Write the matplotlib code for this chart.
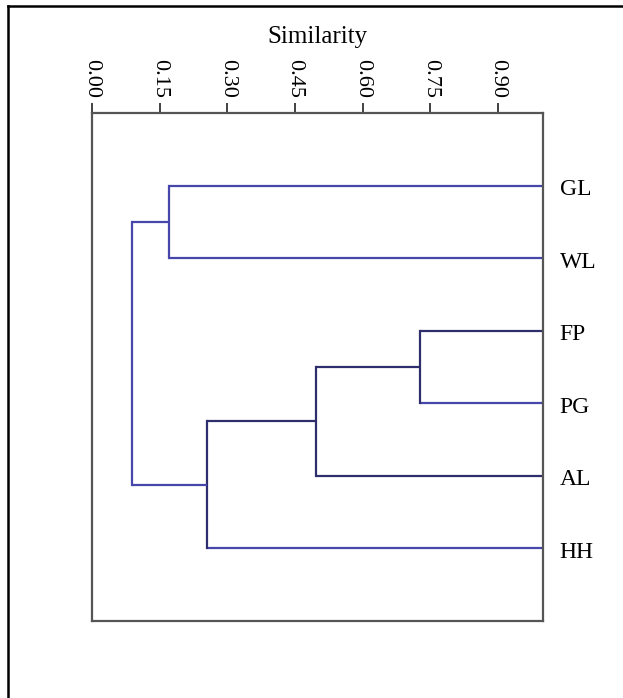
import matplotlib.pyplot as plt
import matplotlib.transforms as mtransforms
from matplotlib.lines import Line2D

# leaves, top to bottom
leaves = ['GL', 'WL', 'FP', 'PG', 'AL', 'HH']
# merges: (left child, right child, similarity) ; new cluster ids start at 6
merges = [(0, 1, 0.171),
          (2, 3, 0.727),
          (7, 4, 0.497),
          (8, 5, 0.256),
          (6, 9, 0.089)]
ticks = [0.00, 0.15, 0.30, 0.45, 0.60, 0.75, 0.90]
# colour of the link that goes down to each node (leaves then merges)
dark = '#2e2e6c'
blue = '#4646ab'
node_colors = [blue, blue, dark, blue, dark, blue, blue, dark, dark, blue]

fig = plt.figure(figsize=(6.23, 6.98), dpi=100)
ax = fig.add_axes([92/623, 1 - 621/698, 451/623, 508/698])

# node positions: leaves at similarity 1, merges at their similarity
xs = [1.0] * len(leaves)
ys = list(range(len(leaves)))
for a, b, s in merges:
    for c in (a, b):
        ax.plot([s, xs[c]], [ys[c], ys[c]], color=node_colors[c], lw=1.6,
                solid_capstyle='butt')
    ax.plot([s, s], [ys[a], ys[b]], color=node_colors[a], lw=1.6)
    xs.append(s)
    ys.append((ys[a] + ys[b]) / 2)

ax.set_xlim(0, 1.0)
ax.set_ylim(6, -1)
ax.xaxis.set_ticks_position('top')
ax.xaxis.set_label_position('top')
ax.set_xticks(ticks)
ax.set_xticklabels(['%.2f' % t for t in ticks], rotation=-90,
                   family='Liberation Serif', fontsize=16)
ax.set_xlabel('Similarity', family='Liberation Serif', fontsize=18, labelpad=11)
ax.tick_params(axis='x', length=7, width=1.3, color='#333333', pad=4)

ax.yaxis.set_ticks_position('right')
ax.set_yticks(range(len(leaves)))
ax.set_yticklabels(leaves, family='Liberation Serif', fontsize=17)
ax.tick_params(axis='y', length=0, pad=12)
shift = mtransforms.ScaledTranslation(0, -4 / 100, fig.dpi_scale_trans)
for lbl in ax.get_yticklabels():
    lbl.set_va('center')
    lbl.set_transform(lbl.get_transform() + shift)

for sp in ax.spines.values():
    sp.set_color('#555555')
    sp.set_linewidth(1.6)

# outer frame of the picture
fx = 8 / 623
fy = 1 - 6 / 698
fig.add_artist(Line2D([fx, fx], [0, fy], color='black', lw=1.8, transform=fig.transFigure))
fig.add_artist(Line2D([fx, 1], [fy, fy], color='black', lw=1.8, transform=fig.transFigure))

fig.savefig('out.png', dpi=100)
